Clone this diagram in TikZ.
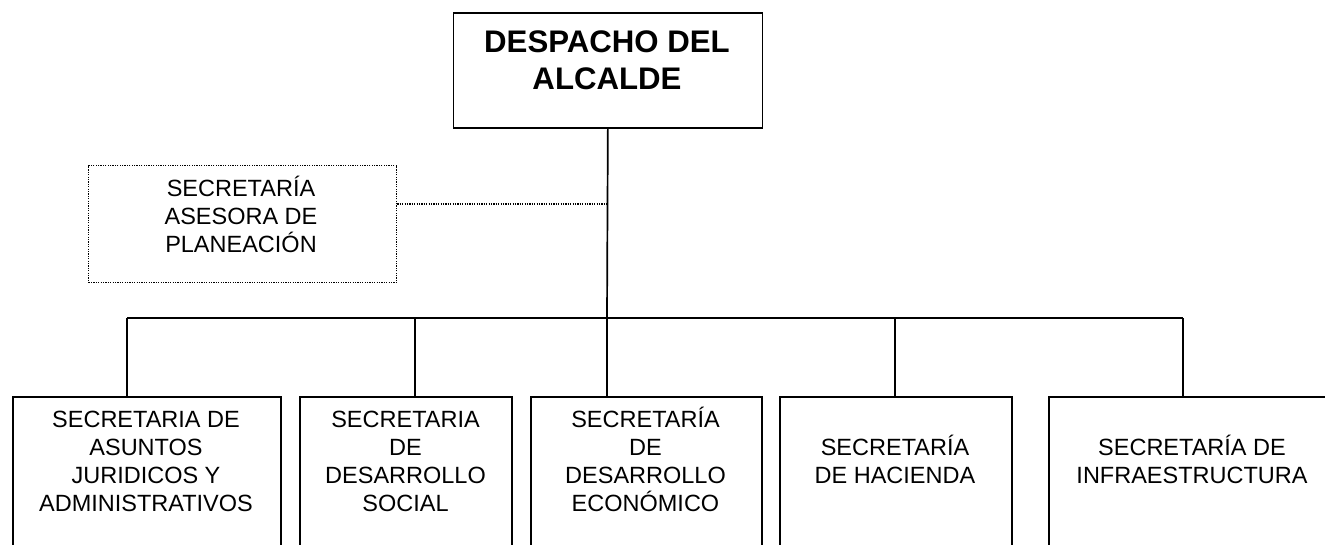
\documentclass[tikz,border=0pt]{standalone}
\usepackage{fontspec}
\setmainfont{Liberation Sans}
\begin{document}
\begin{tikzpicture}[x=1pt,y=-1pt,
  box/.style={draw=black,line width=1.7pt,rectangle,inner sep=0pt,anchor=north west},
  dotbox/.style={draw=black,line width=1.3pt,dash pattern=on 1.2pt off 1.2pt,rectangle,inner sep=0pt,anchor=north west},
  txt/.style={align=center,inner sep=0pt,font=\fontsize{23.5}{28}\selectfont},
  bigtxt/.style={align=center,inner sep=0pt,font=\bfseries\fontsize{31.2}{37}\selectfont},
  conn/.style={draw=black,line width=1.7pt},
  dotline/.style={draw=black,line width=1.3pt,dash pattern=on 1.2pt off 1.2pt}]
\useasboundingbox (0,0) rectangle (1325,544);
\clip (0,0) rectangle (1325,544);
\fill[white] (0,0) rectangle (1325,544);
% top box
\node[box,minimum width=309pt,minimum height=115pt] (top) at (452.5,12) {};
\node[bigtxt] (toptxt) at (607,56.5) {\rule{0pt}{30pt}DESPACHO DEL\\ALCALDE};
% advisory box
\node[dotbox,minimum width=308pt,minimum height=117pt] (plan) at (88,165) {};
\node[txt] (plantxt) at (241,213.5) {\rule{0pt}{23pt}SECRETARÍA\\ASESORA DE\\PLANEACIÓN};
% bottom boxes
\node[box,minimum width=268pt,minimum height=170pt] (b1) at (12,396) {};
\node[box,minimum width=212pt,minimum height=170pt] (b2) at (299,396) {};
\node[box,minimum width=231pt,minimum height=170pt] (b3) at (530,396) {};
\node[box,minimum width=232pt,minimum height=170pt] (b4) at (779,396) {};
\node[box,minimum width=288pt,minimum height=170pt] (b5) at (1048,396) {};
\node[txt] (t1) at (146,458.5) {\rule{0pt}{23pt}SECRETARIA DE\\ASUNTOS\\JURIDICOS Y\\ADMINISTRATIVOS};
\node[txt] (t2) at (405.5,458.5) {\rule{0pt}{23pt}SECRETARIA\\DE\\DESARROLLO\\SOCIAL};
\node[txt] (t3) at (645.5,458.5) {\rule{0pt}{23pt}SECRETARÍA\\DE\\DESARROLLO\\ECONÓMICO};
\node[txt] (t4) at (895,458.5) {\rule{0pt}{23pt}SECRETARÍA\\DE HACIENDA};
\node[txt] (t5) at (1192,458.5) {\rule{0pt}{23pt}SECRETARÍA DE\\INFRAESTRUCTURA};
% connectors
\coordinate (bus) at (607,318);
\coordinate (j1) at (127,318);
\coordinate (j2) at (415,318);
\coordinate (j3) at (607,318);
\coordinate (j4) at (895,318);
\coordinate (j5) at (1183,318);
\coordinate (dj) at (607,204);
\draw[conn] (top.south) -- (bus);
\draw[conn] (j1) -- (j5);
\draw[conn] (j1) -- (j1 |- b1.north);
\draw[conn] (j2) -- (j2 |- b2.north);
\draw[conn] (j3) -- (j3 |- b3.north);
\draw[conn] (j4) -- (j4 |- b4.north);
\draw[conn] (j5) -- (j5 |- b5.north);
\draw[dotline] (plan.east |- dj) -- (dj);
\end{tikzpicture}
\end{document}
